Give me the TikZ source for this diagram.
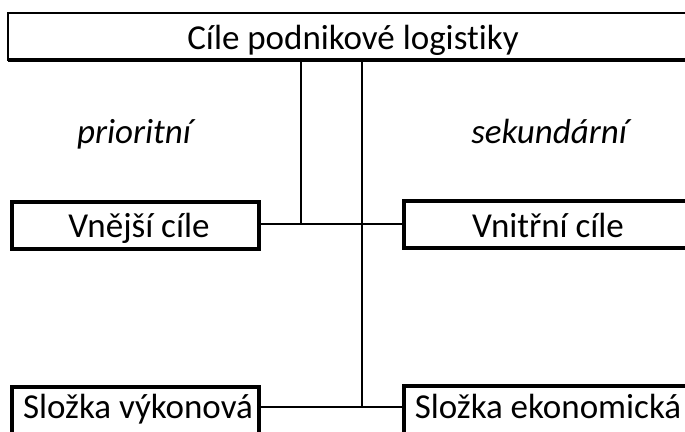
\documentclass[tikz,border=0pt]{standalone}
\usepackage{fontspec}
\setmainfont{Carlito}[Ligatures=NoCommon]
\begin{document}
\begin{tikzpicture}[x=1pt,y=-1pt,
  lbl/.style={font=\fontsize{35}{40}\selectfont, inner sep=0pt, anchor=base},
  ilbl/.style={lbl, font=\fontsize{35}{40}\selectfont\itshape},
  boxline/.style={line width=3.2pt, draw=black},
  conn/.style={line width=1.6pt, draw=black}]
\useasboundingbox (0,0) rectangle (685,431);
\clip (0,0) rectangle (685,431);
% top box
\draw[line width=1.6pt] (8,61) -- (8,13) -- (700,13);
\draw[line width=3.4pt] (8,60) -- (700,60);
\node[lbl] (top) at (353,49) {Cíle podnikové logistiky};
% boxes
\draw[boxline] (12,202) rectangle (259,249);
\node[lbl] (vne) at (139,237) {Vnější cíle};
\coordinate (vneR) at (259,224);
\draw[boxline] (404,201) rectangle (700,248);
\node[lbl] (vni) at (548,237) {Vnitřní cíle};
\coordinate (vniL) at (404,224);
\draw[boxline] (12,387) rectangle (259,450);
\node[lbl] (svy) at (138,418) {Složka výkonová};
\coordinate (svyR) at (259,407);
\draw[boxline] (404,386) rectangle (700,450);
\node[lbl] (sek) at (548,418) {Složka ekonomická};
\coordinate (sekL) at (404,407);
% italic labels
\node[ilbl] (pri) at (134,143) {prioritní};
\node[ilbl] (sekd) at (549,143) {sekundární};
% connectors
\coordinate (a1) at (301,61);
\coordinate (a2) at (301,224);
\coordinate (b1) at (362,61);
\coordinate (b2) at (362,407);
\draw[conn] (a1) -- (a2);
\draw[conn] (b1) -- (b2);
\draw[conn] (vneR) -- (vniL);
\draw[conn] (svyR) -- (sekL);
\end{tikzpicture}
\end{document}
